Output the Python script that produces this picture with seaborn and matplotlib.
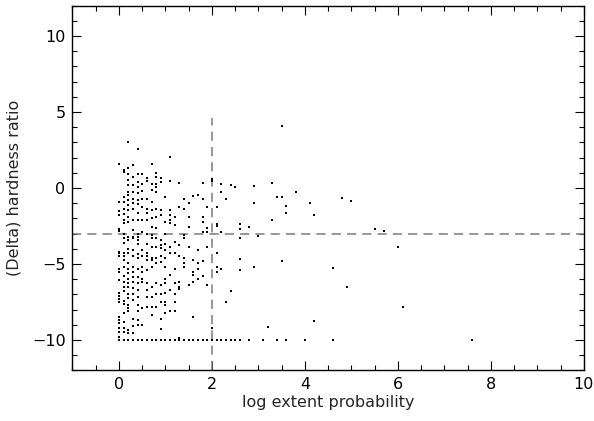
import matplotlib
matplotlib.use("Agg")
import matplotlib.pyplot as plt
import seaborn as sns
import pandas as pd
from matplotlib.ticker import MultipleLocator

# ---------------- data ----------------
# Points are grouped by their log extent probability value (x).
y_at_00 = [1.6, -0.9, -1.5, -1.8, -2.7, -2.8, -4.2, -4.3, -4.5, -5.35, -5.5, -6.05,
           -6.9, -7.1, -7.3, -7.5, -8.5, -8.7, -8.9, -9.2, -9.5, -9.8]
y_at_01 = [1.2, 1.05, -0.6, -0.9, -1.35, -1.7, -2.1, -2.3, -3.0, -3.3, -3.6, -4.3,
           -4.5, -4.7, -5.2, -5.8, -6.2, -6.5, -6.8, -7.4, -7.6, -8.2, -8.8, -9.2, -9.5]
y_at_02 = [3.05, 1.3, 0.95, 0.5, 0.2, -0.25, -0.45, -0.8, -1.1, -1.45, -1.9, -2.2,
           -3.2, -3.4, -4.0, -4.25, -4.95, -5.3, -5.6, -5.95, -6.25, -6.5, -6.95,
           -7.25, -7.7, -7.9, -8.1, -9.35, -9.55]
y_at_03 = [1.5, 0.75, 0.2, -0.25, -0.7, -1.0, -1.35, -2.1, -2.75, -3.2, -3.3, -4.1,
           -4.5, -5.2, -5.5, -5.85, -6.15, -6.6, -6.95, -7.35, -8.6, -9.1, -9.55]
y_at_04 = [2.55, 0.95, 0.4, 0.1, -0.35, -0.8, -1.05, -1.65, -2.1, -3.0, -3.2, -3.4,
           -3.65, -4.35, -4.6, -5.3, -5.85, -6.25, -6.7, -7.15, -7.7, -8.1, -8.7, -9.0]
y_at_05 = [0.95, 0.3, -0.2, -0.7, -1.25, -2.1, -2.9, -4.1, -4.5, -5.2, -5.5, -5.95,
           -6.15, -7.9, -9.0]
y_at_06 = [0.65, 0.45, -0.75, -1.35, -1.65, -2.1, -3.0, -3.65, -4.3, -4.5, -4.75,
           -5.4, -6.25, -6.7, -7.15, -7.8]
y_at_07 = [1.6, 0.3, -0.15, -0.9, -1.45, -2.0, -2.55, -3.1, -3.3, -3.85, -4.6, -4.7,
           -5.2, -6.5, -7.15, -7.8, -8.35]
y_at_08 = [1.0, 0.75, 0.3, 0.05, -0.25, -1.35, -1.9, -2.65, -3.3, -3.85, -4.6, -4.95,
           -6.25, -6.95, -7.8]
y_at_09 = [0.65, 0.4, -1.45, -1.8, -3.4, -3.75, -3.95, -4.5, -4.85, -6.4, -6.95, -7.5,
           -8.6, -9.25]
y_at_10 = [-0.6, -2.2, -3.0, -3.65, -4.1, -4.6, -5.2, -5.95, -6.25, -6.9, -7.5, -7.7,
           -8.25]
y_at_11 = [2.05, 0.45, -1.45, -1.8, -2.1, -2.3, -3.85, -4.3, -5.7, -6.7, -8.1]
y_at_12 = [-1.9, -2.45, -3.55, -4.3, -5.35, -6.25, -6.95, -7.5, -8.1]
y_at_13 = [0.35, -1.25, -3.75, -4.5, -6.15, -6.5, -6.65, -9.85]
y_at_14 = [-0.7, -1.35, -3.1, -3.3, -4.6, -4.95, -5.2]
y_at_15 = [-0.95, -1.9, -2.55, -3.85, -6.35]
y_at_16 = [-0.55, -4.75, -5.5, -5.7, -6.2, -8.5]
y_at_17 = [-0.45, -4.1, -4.95, -5.3, -5.95]
y_at_18 = [0.31, -0.69, -1.92, -2.2, -2.88, -4.83, -5.77]
y_at_19 = [-1.25, -2.64, -2.88, -3.89, -6.4]
y_at_20 = [0.58, 0.47, -9.2]
y_at_21 = [-1.25, -2.35, -2.5, -4.25, -5.21, -5.52]
y_at_22 = [0.25, -0.27, -2.89, -5.3]
y_at_23 = [-0.72, -7.5]
y_at_24 = [0.18, -6.8]
y_at_25 = [0.09]
y_at_26 = [-2.35, -2.7, -3.29, -4.65, -5.39]

dense_x = [0.0, 0.1, 0.2, 0.3, 0.4, 0.5, 0.6, 0.7, 0.8, 0.9, 1.0, 1.1, 1.2, 1.3,
           1.4, 1.5, 1.6, 1.7, 1.8, 1.9, 2.0, 2.1, 2.2, 2.3, 2.4, 2.5, 2.6]
dense_y = [y_at_00, y_at_01, y_at_02, y_at_03, y_at_04, y_at_05, y_at_06, y_at_07,
           y_at_08, y_at_09, y_at_10, y_at_11, y_at_12, y_at_13, y_at_14, y_at_15,
           y_at_16, y_at_17, y_at_18, y_at_19, y_at_20, y_at_21, y_at_22, y_at_23,
           y_at_24, y_at_25, y_at_26]

# sparse points beyond x = 2.6
sparse_x = [2.8, 2.9, 2.9, 2.9, 3.0, 3.2, 3.3, 3.3, 3.4, 3.5, 3.5, 3.5, 3.6, 3.6,
            3.8, 4.1, 4.2, 4.2, 4.6, 4.8, 4.9, 5.0, 5.5, 5.7, 6.0, 6.1]
sparse_y = [-2.55, 0.16, -0.96, -5.17, -3.15, -9.13, 0.31, -2.1, -0.58, 4.09, -0.58,
            -4.81, -1.19, -1.66, -0.29, -1.0, -1.79, -8.75, -5.26, -0.63, -6.51,
            -0.85, -2.7, -2.8, -3.9, -7.85]

# points sitting at the floor value of the hardness ratio
floor_x = [0.0, 0.1, 0.2, 0.3, 0.4, 0.5, 0.6, 0.7, 0.8, 0.9, 1.0, 1.1, 1.2, 1.3,
           1.4, 1.5, 1.6, 1.7, 1.8, 1.9, 2.0, 2.1, 2.2, 2.3, 2.4, 2.5, 2.6, 2.8,
           3.1, 3.4, 3.6, 4.0, 4.6, 7.6]
floor_value = -10.0

x_ticks = [0, 2, 4, 6, 8, 10]
y_ticks = [-10, -5, 0, 5, 10]
x_cut = 2.0       # vertical dashed reference line
x_cut_top = 4.6
y_cut = -3.0      # horizontal dashed reference line

# ---------------- build the table ----------------
rows_x, rows_y = [], []
for xv, ys in zip(dense_x, dense_y):
    for yv in ys:
        rows_x.append(xv)
        rows_y.append(yv)
rows_x += sparse_x
rows_y += sparse_y
rows_x += floor_x
rows_y += [floor_value] * len(floor_x)
df = pd.DataFrame({"logprob": rows_x, "dhr": rows_y})

# ---------------- style ----------------
sns.set_style("ticks")
plt.rcParams["font.family"] = ["DejaVu Sans"]
plt.rcParams.update({
    "xtick.direction": "in", "ytick.direction": "in",
    "xtick.top": True, "ytick.right": True,
    "xtick.major.size": 6.8, "ytick.major.size": 6.8,
    "xtick.minor.size": 3.3, "ytick.minor.size": 3.3,
    "xtick.major.width": 0.8, "ytick.major.width": 0.8,
    "xtick.minor.width": 0.8, "ytick.minor.width": 0.8,
    "axes.linewidth": 1.0,
    "axes.edgecolor": "black",
    "xtick.color": "black", "ytick.color": "black",
})

fig = plt.figure(figsize=(5.94, 4.21), dpi=100)
ax = fig.add_axes([0.122, 0.120, 0.861, 0.8665])

sns.scatterplot(data=df, x="logprob", y="dhr", ax=ax, color="black",
                marker="s", s=3.0, linewidth=0, legend=False, zorder=3)

# dashed reference lines
ax.plot([-1, 10], [y_cut, y_cut], color="#7a7a7a", lw=1.1,
        dashes=(6.0, 4.0), zorder=2)
ax.plot([x_cut, x_cut], [-12, x_cut_top], color="#7a7a7a", lw=1.1,
        dashes=(6.0, 4.0), zorder=2)

ax.set_xlim(-1, 10)
ax.set_ylim(-12, 12)
ax.set_xticks(x_ticks)
ax.set_yticks(y_ticks)
ax.xaxis.set_minor_locator(MultipleLocator(0.5))
ax.yaxis.set_minor_locator(MultipleLocator(1))
ax.tick_params(which="both", top=True, right=True, direction="in")
ax.tick_params(axis="both", which="major", labelsize=11.5, pad=5)

ax.set_xlabel("log extent probability", fontsize=11.5)
ax.set_ylabel("(Delta) hardness ratio", fontsize=11.5)
ax.xaxis.set_label_coords(0.5, -0.068)
ax.yaxis.set_label_coords(-0.10, 0.5)

for sp in ax.spines.values():
    sp.set_visible(True)
    sp.set_linewidth(1.0)

fig.savefig("out.png", dpi=100)
